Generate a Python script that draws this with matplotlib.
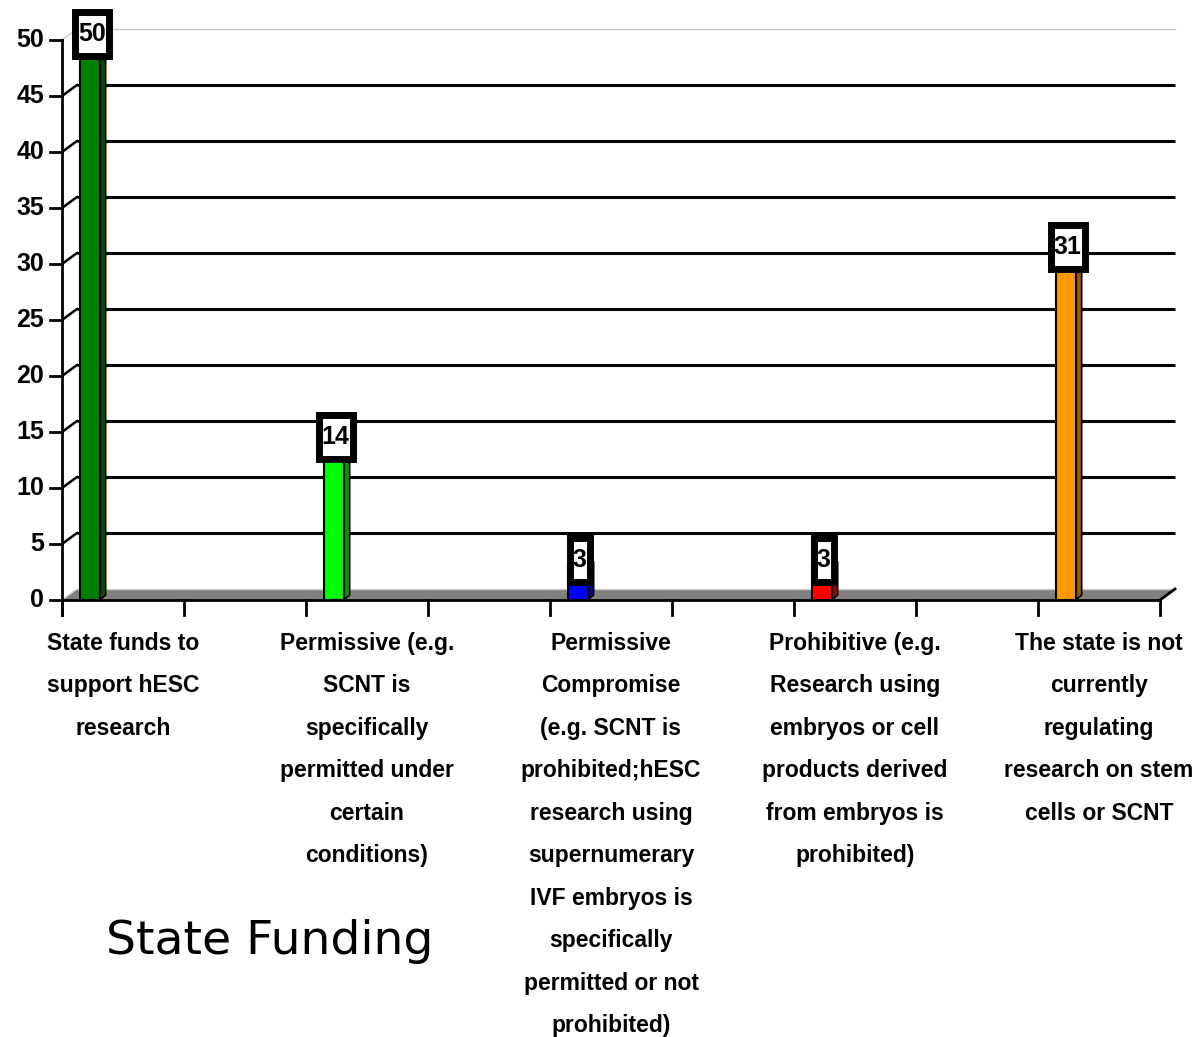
import matplotlib
matplotlib.use("Agg")
import matplotlib.pyplot as plt
from matplotlib.patches import Rectangle, Polygon
from matplotlib.transforms import IdentityTransform

# data
categories = [
    "State funds to\nsupport hESC\nresearch",
    "Permissive (e.g.\nSCNT is\nspecifically\npermitted under\ncertain\nconditions)",
    "Permissive\nCompromise\n(e.g. SCNT is\nprohibited;hESC\nresearch using\nsupernumerary\nIVF embryos is\nspecifically\npermitted or not\nprohibited)",
    "Prohibitive (e.g.\nResearch using\nembryos or cell\nproducts derived\nfrom embryos is\nprohibited)",
    "The state is not\ncurrently\nregulating\nresearch on stem\ncells or SCNT",
]
values = [50, 14, 3, 3, 31]
front_colors = ["#008000", "#00ff00", "#0000ff", "#ff0000", "#ff9900"]
side_colors = ["#004d00", "#009900", "#000099", "#990000", "#995c00"]
yticks = [0, 5, 10, 15, 20, 25, 30, 35, 40, 45, 50]
title = "State Funding"

W, H = 1198, 1037
fig = plt.figure(figsize=(W / 100, H / 100), dpi=100)
x0, x1, y0, y1 = 62, 1160, 600, 40
ax = fig.add_axes([x0 / W, 1 - y0 / H, (x1 - x0) / W, (y0 - y1) / H])
ax.set_xlim(0, 9)
ax.set_ylim(0, 50)
ax.set_autoscale_on(False)
ax.axis("off")

ppx = (x1 - x0) / 9.0      # pixels per x unit
ppy = (y0 - y1) / 50.0     # pixels per y unit
ddx, ddy = 15 / ppx, 11 / ppy   # wall depth in data units

# back wall gridlines
for v in yticks[1:-1]:
    ax.plot([ddx, 9 + ddx], [v + ddy, v + ddy], color="black", lw=2.2,
            clip_on=False, zorder=1, solid_capstyle="butt")
ax.plot([ddx, 9 + ddx], [50 + ddy, 50 + ddy], color="#c8c8c8", lw=1,
        clip_on=False, zorder=1)
ax.plot([0, ddx], [50, 50 + ddy], color="#c8c8c8", lw=1, clip_on=False, zorder=1)

# floor
ax.add_patch(Polygon([(0, 0), (9, 0), (9 + ddx, ddy), (ddx, ddy)], closed=True,
                     facecolor="#808080", edgecolor="none", clip_on=False, zorder=2))
ax.plot([ddx, 9 + ddx], [ddy, ddy], color="#d0d0d0", lw=1, clip_on=False, zorder=2)

# left axis with ticks and wall diagonals
ax.plot([0, 0], [-15 / ppy, 50], color="black", lw=2, clip_on=False, zorder=3)
for v in yticks:
    ax.plot([-12 / ppx, 0], [v, v], color="black", lw=2, clip_on=False, zorder=3)
    if 0 < v < 50:
        ax.plot([0, ddx], [v, v + ddy], color="black", lw=1.8, clip_on=False, zorder=3)
    ax.text(-18 / ppx, v, str(v), ha="right", va="center", fontsize=18,
            fontweight="bold", family="Liberation Sans", clip_on=False)
ax.plot([0, ddx], [0, ddy], color="#d0d0d0", lw=1, clip_on=False, zorder=2)

# bottom axis
ax.plot([0, 9], [0, 0], color="black", lw=2, clip_on=False, zorder=3)
ax.plot([9, 9 + ddx], [0, ddy], color="black", lw=2, clip_on=False, zorder=3)
for i in range(10):
    ax.plot([i, i], [0, -15 / ppy], color="black", lw=2, clip_on=False, zorder=3)

# bars (pseudo 3D)
bw = 20 / ppx
sdx, sdy = 6 / ppx, 5 / ppy
label_texts = []
for k, (v, fc, sc) in enumerate(zip(values, front_colors, side_colors)):
    left = 2 * k + 0.145
    ax.add_patch(Polygon([(left + bw, 0), (left + bw + sdx, sdy), (left + bw + sdx, v + sdy),
                          (left + bw, v)], closed=True, facecolor=sc, edgecolor="black",
                         lw=1.2, clip_on=False, zorder=4))
    ax.add_patch(Rectangle((left, 0), bw, v, facecolor=fc, edgecolor="black", lw=1.5,
                           clip_on=False, zorder=5))
    t = ax.text(left + bw / 2 + 2 / ppx, v + 6 / ppy, str(v), ha="center", va="center",
                fontsize=18, fontweight="bold", family="Liberation Sans",
                zorder=10, clip_on=False)
    label_texts.append(t)

# category labels
for k, lab in enumerate(categories):
    ax.text(2 * k + 0.5, -(632 - y0) / ppy, lab, ha="center", va="top", fontsize=16.5,
            fontweight="bold", family="Liberation Sans", linespacing=2.08, clip_on=False)

fig.text(270 / W, 1 - 941 / H, title, ha="center", va="center", fontsize=34,
         family="DejaVu Sans")

# boxes around value labels (drawn in pixel space, text stays on top)
fig.canvas.draw()
r = fig.canvas.get_renderer()
for t in label_texts:
    bb = t.get_window_extent(r)
    cx, cy = (bb.x0 + bb.x1) / 2, (bb.y0 + bb.y1) / 2
    bw_px = bb.width + 6
    bh_px = 44
    box = Rectangle((cx - bw_px / 2, cy - bh_px / 2), bw_px, bh_px,
                    transform=IdentityTransform(), facecolor="white",
                    edgecolor="black", lw=5, zorder=9, clip_on=False)
    ax.add_artist(box)

fig.savefig("out.png", dpi=100)
